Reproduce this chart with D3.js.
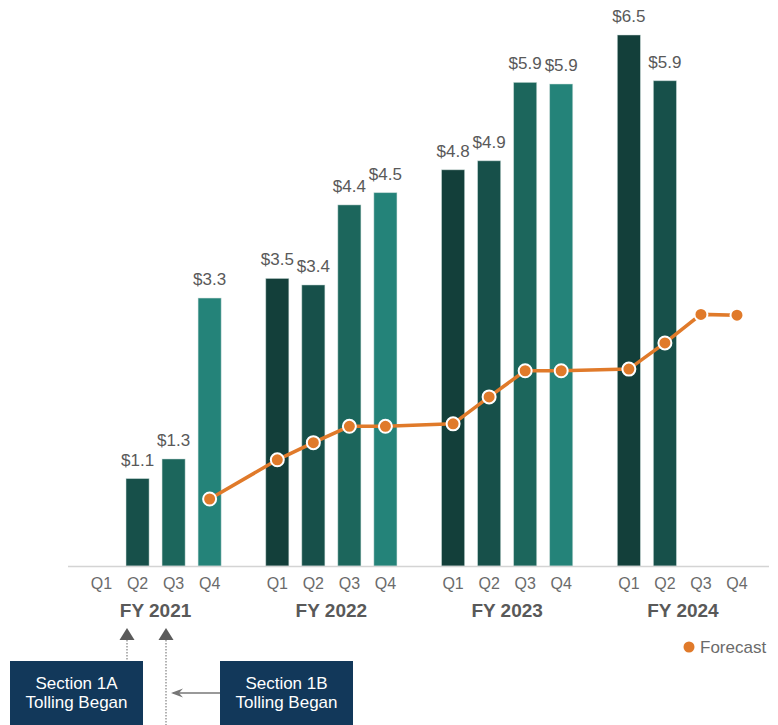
<!DOCTYPE html>
<html>
<head>
<meta charset="utf-8">
<script src="https://cdn.jsdelivr.net/npm/d3@7"></script>
<style>
  body { margin: 0; background: #fff; }
  svg { display: block; font-family: "Liberation Sans", Arial, sans-serif; }
</style>
</head>
<body>
<div id="js_chart"></div>
<script>
// data
const years = ["FY 2021", "FY 2022", "FY 2023", "FY 2024"];
const quarters = ["Q1", "Q2", "Q3", "Q4"];
// revenue per quarter, in year order (null = no bar)
const actual = [null, 1.07, 1.31, 3.28,  3.52, 3.44, 4.42, 4.57,  4.85, 4.96, 5.92, 5.90,  6.50, 5.94, null, null];
const actualLabels = ["", "$1.1", "$1.3", "$3.3",  "$3.5", "$3.4", "$4.4", "$4.5",  "$4.8", "$4.9", "$5.9", "$5.9",  "$6.5", "$5.9", "", ""];
const forecast = [null, null, null, 0.82,  1.30, 1.51, 1.71, 1.71,  1.74, 2.07, 2.39, 2.39,  2.41, 2.73, 3.08, 3.07];
const notes = ["Section 1A|Tolling Began", "Section 1B|Tolling Began"];

const quarterColors = ["#133f3a", "#17504a", "#1c665c", "#248379"];

function renderChart() {
    let div = document.getElementById("js_chart");
    div.innerHTML = "";

    let width = 778, height = 725;
    let svg = d3.select("#js_chart").append("svg")
        .attr("width", width).attr("height", height);

    // ******************************************************
    // Scales
    // ******************************************************
    let x0 = d3.scaleBand().domain(years).range([83.5, 755]).paddingInner(0.18);
    let x1 = d3.scaleBand().domain(quarters).range([0, x0.bandwidth()])
        .paddingInner(0.36).paddingOuter(0.18);
    let y = d3.scaleLinear().domain([0, 6.5]).range([566, 35]);

    let rows = [];
    years.forEach((yr, g) => quarters.forEach((q, i) => {
        let k = g * 4 + i;
        rows.push({year: yr, q: q, qi: i, value: actual[k], label: actualLabels[k], fc: forecast[k]});
    }));
    let cx = d => x0(d.year) + x1(d.q) + x1.bandwidth() / 2;

    // bars
    svg.append("g").selectAll("rect")
        .data(rows.filter(d => d.value != null))
        .enter().append("rect")
            .attr("x", d => x0(d.year) + x1(d.q))
            .attr("width", x1.bandwidth())
            .attr("y", d => y(d.value))
            .attr("height", d => y(0) - y(d.value))
            .attr("fill", d => quarterColors[d.qi])
            .attr("stroke", "#cfe0dc").attr("stroke-width", 0.8).attr("stroke-opacity", 0.6);

    svg.append("g").selectAll("text")
        .data(rows.filter(d => d.value != null))
        .enter().append("text")
            .attr("x", cx)
            .attr("y", d => y(d.value) - 13)
            .attr("text-anchor", "middle")
            .attr("font-size", 17)
            .attr("fill", "#595959")
            .text(d => d.label);

    // baseline
    svg.append("line")
        .attr("x1", 68).attr("x2", 769)
        .attr("y1", y(0) + 0.5).attr("y2", y(0) + 0.5)
        .attr("stroke", "#d4d4d4").attr("stroke-width", 1.6);

    // quarter + year labels
    svg.append("g").selectAll("text")
        .data(rows)
        .enter().append("text")
            .attr("x", cx).attr("y", 589)
            .attr("text-anchor", "middle")
            .attr("font-size", 16)
            .attr("fill", "#6b6b6b")
            .text(d => d.q);

    svg.append("g").selectAll("text")
        .data(years)
        .enter().append("text")
            .attr("x", d => x0(d) + x0.bandwidth() / 2).attr("y", 617)
            .attr("text-anchor", "middle")
            .attr("font-size", 19).attr("font-weight", "bold")
            .attr("fill", "#595959")
            .text(d => d);

    // forecast line
    const orange = "#e07a2a";
    let fc = rows.filter(d => d.fc != null);
    svg.append("path")
        .datum(fc)
        .attr("fill", "none")
        .attr("stroke", orange).attr("stroke-width", 3.5)
        .attr("d", d3.line().x(cx).y(d => y(d.fc)));
    svg.append("g").selectAll("circle")
        .data(fc)
        .enter().append("circle")
            .attr("cx", cx).attr("cy", d => y(d.fc))
            .attr("r", 6.5)
            .attr("fill", orange)
            .attr("stroke", "#fff").attr("stroke-width", 2);

    // legend
    svg.append("circle").attr("cx", 689).attr("cy", 647).attr("r", 5.5).attr("fill", orange);
    svg.append("text").attr("x", 700).attr("y", 653)
        .attr("font-size", 17).attr("fill", "#6b6b6b").text("Forecast");

    // ******************************************************
    // Annotations
    // ******************************************************
    let ann = svg.append("g");
    let arrowX = [127, 166];
    arrowX.forEach((ax, i) => {
        ann.append("path")
            .attr("d", "M" + ax + ",628 L" + (ax + 7.5) + ",640 L" + (ax - 7.5) + ",640 Z")
            .attr("fill", "#5b5b5b");
        ann.append("line")
            .attr("x1", ax).attr("x2", ax)
            .attr("y1", 640).attr("y2", i == 0 ? 661 : 725)
            .attr("stroke", "#8a8a8a").attr("stroke-width", 1.3)
            .attr("stroke-dasharray", "1.5,1.5");
    });

    // arrow from box 1B
    ann.append("line")
        .attr("x1", 220).attr("x2", 173).attr("y1", 693).attr("y2", 693)
        .attr("stroke", "#777").attr("stroke-width", 1.6);
    ann.append("path")
        .attr("d", "M171,693 L183,688.5 L179,693 L183,697.5 Z")
        .attr("fill", "#777");

    let boxX = [10, 220];
    notes.forEach((n, i) => {
        ann.append("rect")
            .attr("x", boxX[i]).attr("y", 661)
            .attr("width", 133).attr("height", 70)
            .attr("fill", "#12385a");
        n.split("|").forEach((line, j) => {
            ann.append("text")
                .attr("x", boxX[i] + 66.5).attr("y", 689 + j * 19)
                .attr("text-anchor", "middle")
                .attr("font-size", 17).attr("fill", "#fff")
                .text(line);
        });
    });
}

renderChart();
</script>
</body>
</html>
